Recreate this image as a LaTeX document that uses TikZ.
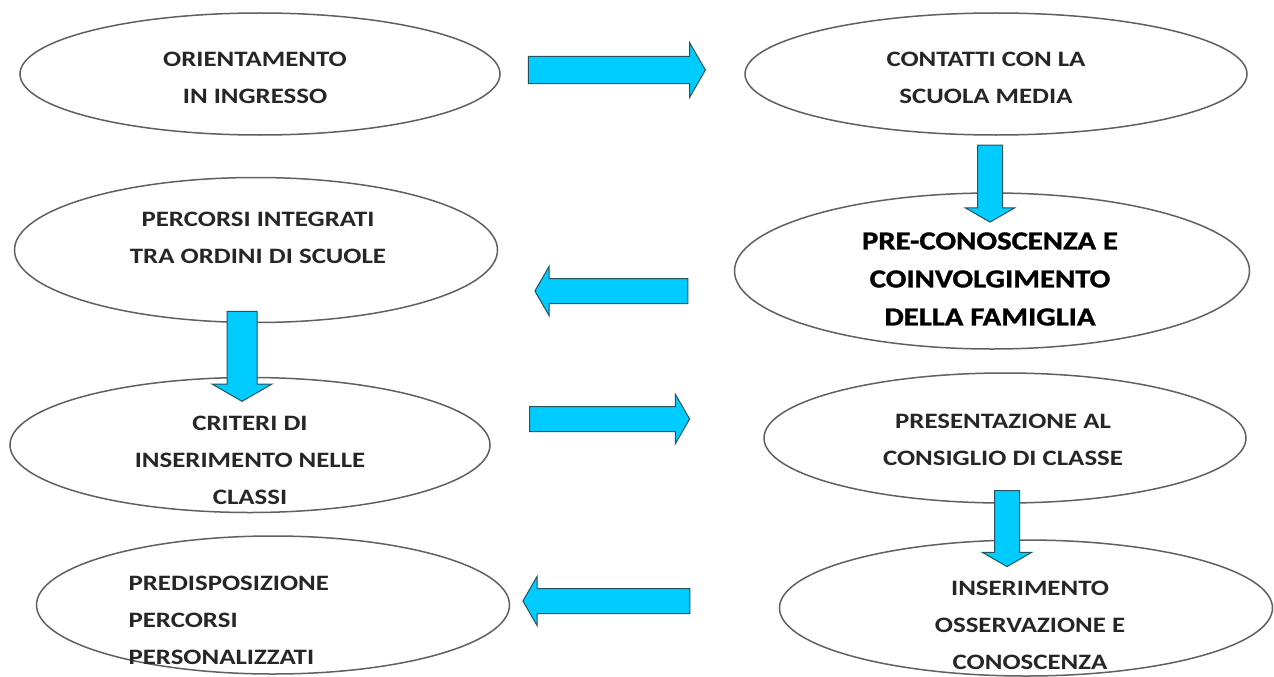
\documentclass[tikz,border=0pt]{standalone}
\usepackage{fontspec}
\setmainfont[FakeStretch=1.22]{Carlito}
\newfontfamily\heavyfont[FakeStretch=1.18, FakeBold=1.2]{Carlito}
\usepackage{tikz}
\usetikzlibrary{shapes.geometric,shapes.arrows}
\definecolor{arrowfill}{HTML}{00CCFF}
\definecolor{arrowedge}{HTML}{24525F}
\definecolor{ringedge}{HTML}{606060}
\tikzset{
  ring/.style={ellipse, draw=ringedge, line width=1.5pt, inner sep=0pt},
  lbl/.style={font=\fontsize{22}{37}\selectfont\bfseries, align=center, text=black!85},
  blbl/.style={font=\fontsize{26}{38}\heavyfont\bfseries, align=center, text=black},
  barrow/.style={single arrow, fill=arrowfill, draw=arrowedge, line width=1pt,
    inner xsep=0pt, inner ysep=12pt, single arrow head extend=12pt,
    single arrow tip angle=120}
}

\begin{document}
\begin{tikzpicture}[x=1pt, y=-1pt]
  \path[fill=white] (0,0) rectangle (1274,677);

  % ellipses
  \node[ring, minimum width=480, minimum height=122] (e1) at (260,74) {};
  \node[ring, minimum width=502, minimum height=122] (e2) at (996,74) {};
  \node[ring, minimum width=483, minimum height=145] (e3) at (256,250) {};
  \node[ring, minimum width=515, minimum height=156] (e4) at (992,271) {};
  \node[ring, minimum width=480, minimum height=135] (e5) at (250,445) {};
  \node[ring, minimum width=482, minimum height=130] (e6) at (1005,438) {};
  \node[ring, minimum width=493, minimum height=136] (e7) at (1026,608) {};
  \node[ring, minimum width=473, minimum height=138] (e8) at (273,605) {};

  % texts
  \node[lbl] (t1) at (255,78) {ORIENTAMENTO\\IN INGRESSO};
  \node[lbl] (t2) at (986,78) {CONTATTI CON LA\\SCUOLA MEDIA};
  \node[lbl] (t3) at (258,238) {PERCORSI INTEGRATI\\TRA ORDINI DI SCUOLE};
  \node[blbl] (t4) at (990,279) {PRE-CONOSCENZA E\\COINVOLGIMENTO\\DELLA FAMIGLIA};
  \node[lbl] (t5) at (250,460) {CRITERI DI\\INSERIMENTO NELLE\\CLASSI};
  \node[lbl] (t6) at (1003,440) {PRESENTAZIONE AL\\CONSIGLIO DI CLASSE};
  \node[lbl] (t7) at (1030,625) {INSERIMENTO\\OSSERVAZIONE E\\CONOSCENZA};
  \node[lbl, align=left, anchor=west] (t8) at (125,620) {PREDISPOSIZIONE\\PERCORSI\\PERSONALIZZATI};

  % block arrows
  \node[barrow, inner ysep=13pt, single arrow head extend=14pt, minimum height=177] (a1) at (613,70) {};
  \node[barrow, rotate=-90, minimum height=77] (a2) at (990,180) {};
  \node[barrow, rotate=180, minimum height=153] (a3) at (615,291) {};
  \node[barrow, rotate=-90, inner ysep=14.5pt, single arrow head extend=15pt, minimum height=90] (a4) at (242,352) {};
  \node[barrow, minimum height=160] (a5) at (606,419) {};
  \node[barrow, rotate=-90, minimum height=76] (a6) at (1007,525) {};
  \node[barrow, rotate=180, minimum height=167] (a7) at (610,601) {};
\end{tikzpicture}
\end{document}
